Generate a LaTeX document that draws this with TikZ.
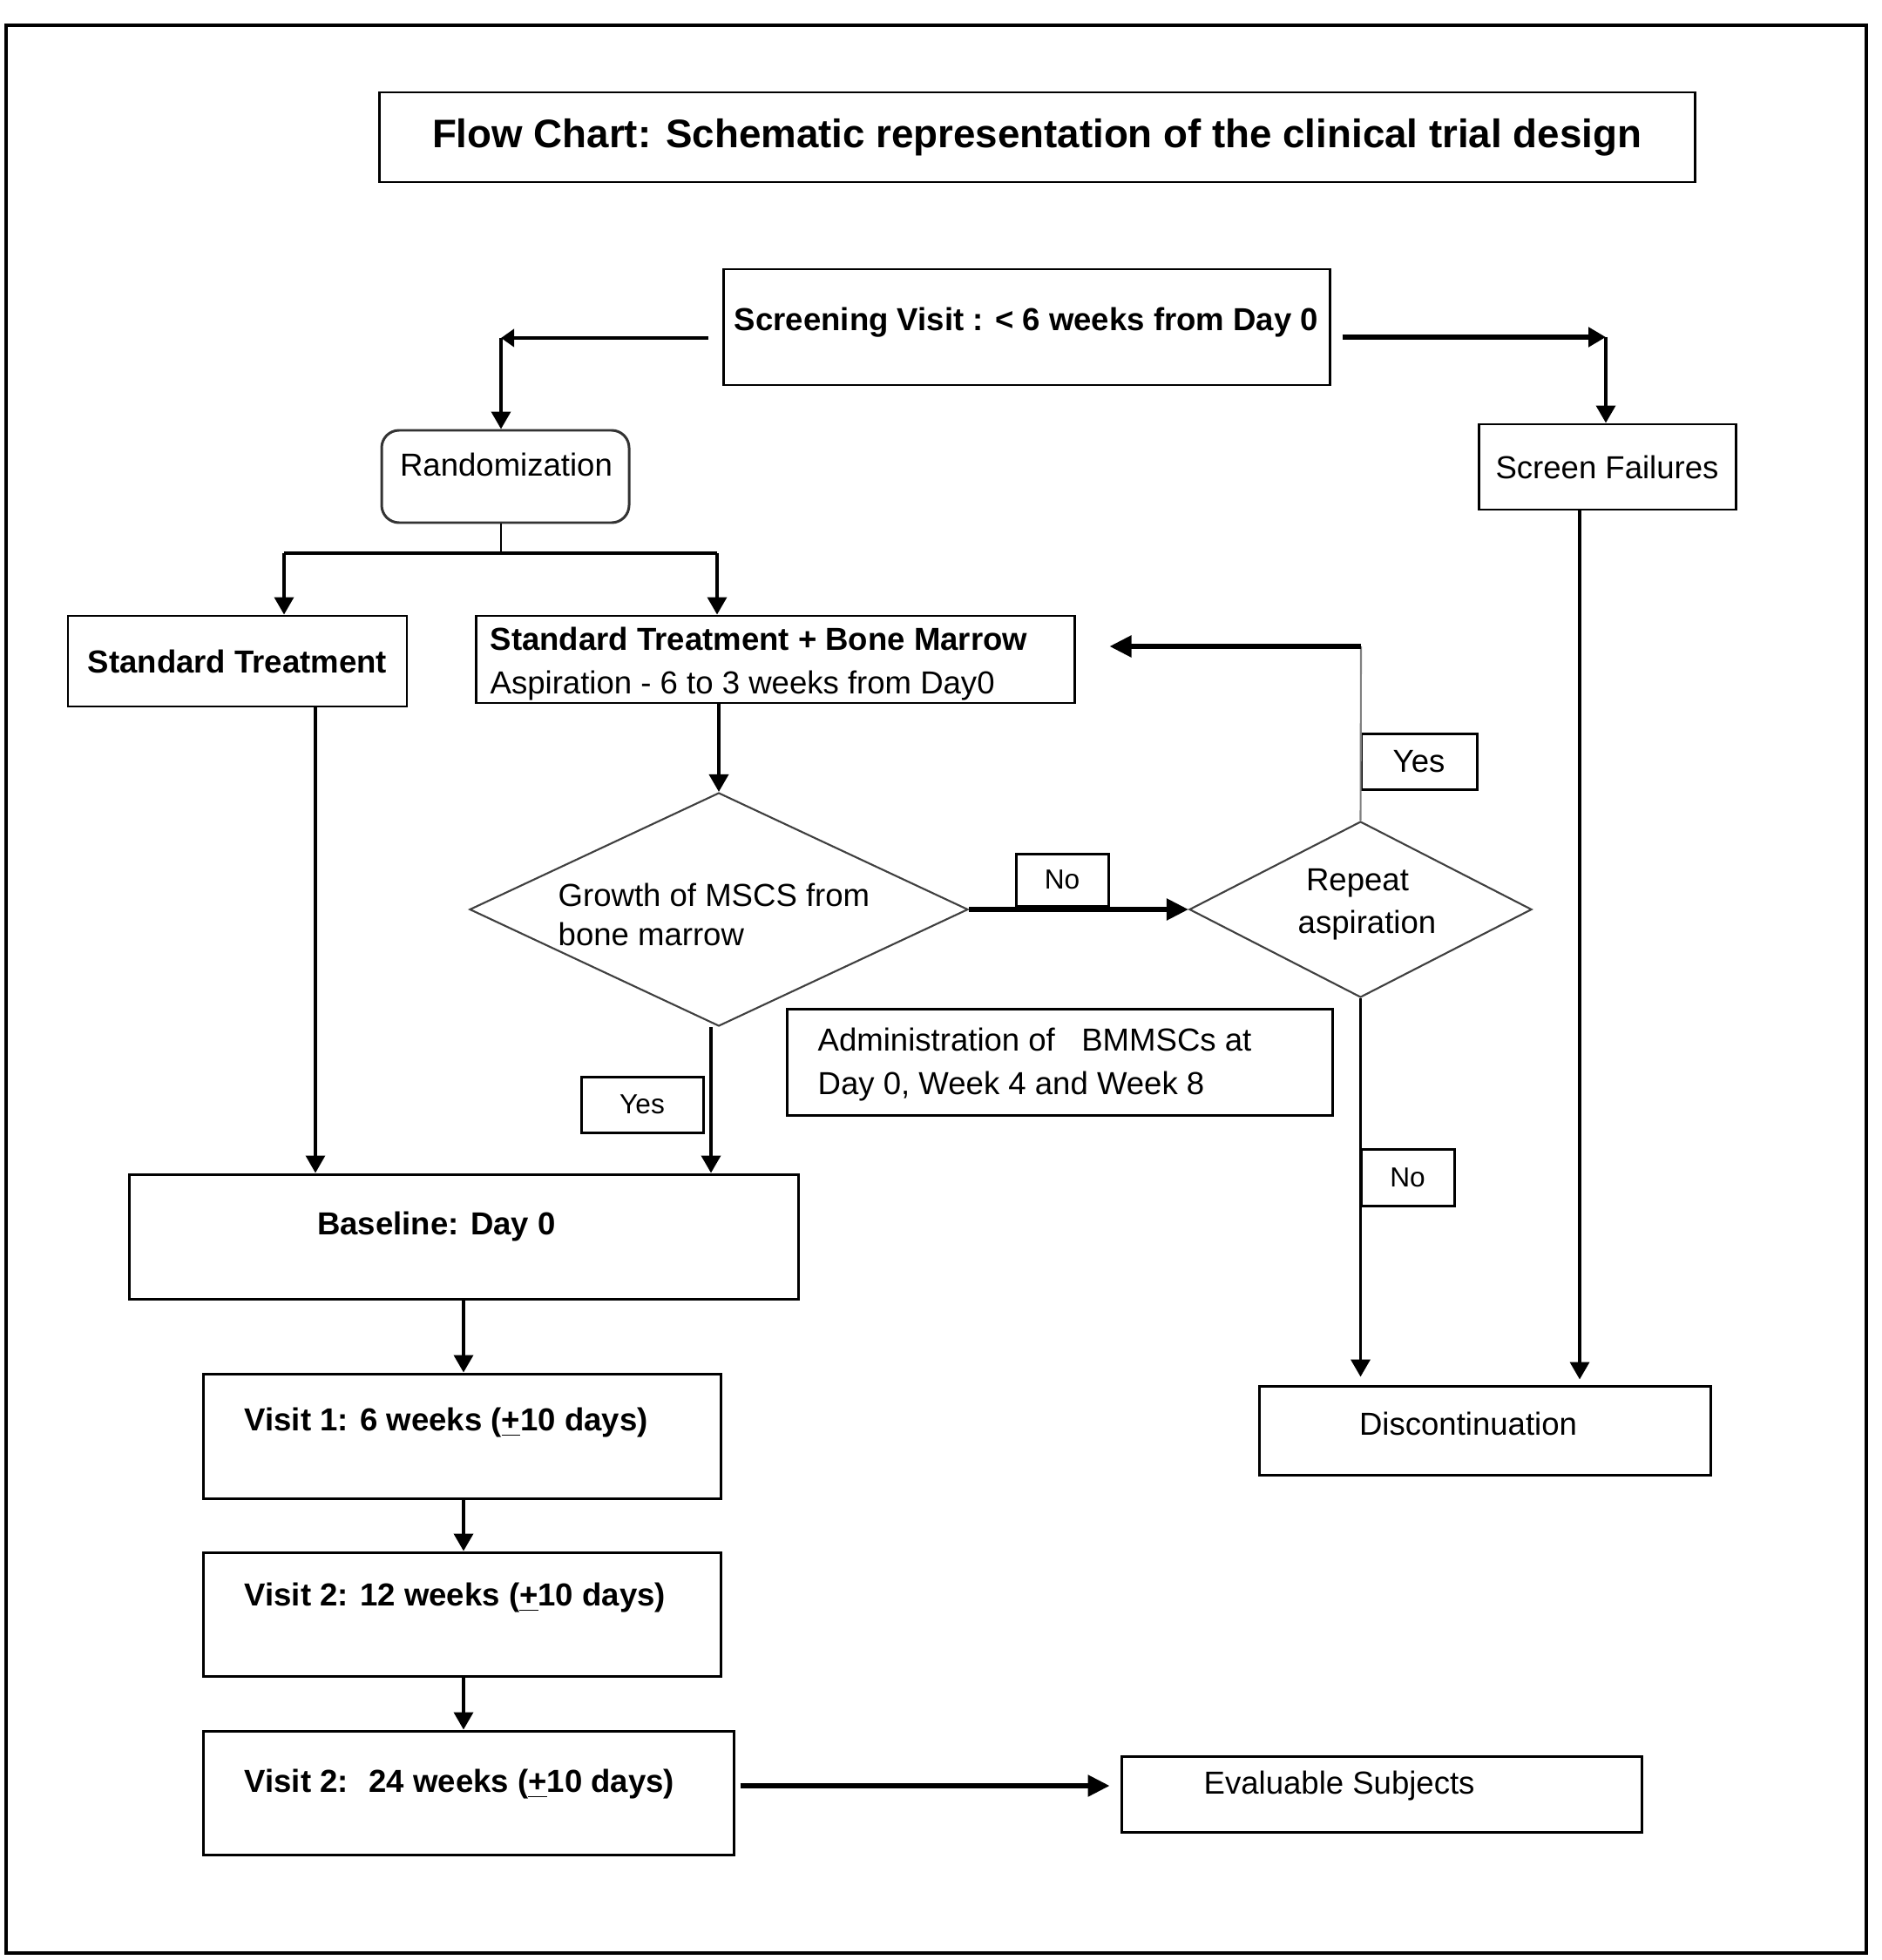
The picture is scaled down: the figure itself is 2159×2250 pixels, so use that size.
\documentclass[tikz,border=0pt]{standalone}
\usepackage{fontspec}
\setmainfont{Liberation Sans}
\usetikzlibrary{arrows.meta,shapes.geometric}
\begin{document}
\begin{tikzpicture}[x=0.1mm,y=-0.1mm,
  box/.style={draw=black, line width=0.85pt, rectangle, inner sep=0pt},
  dia/.style={draw=black!75, line width=0.6pt, diamond, inner sep=0pt},
  txt/.style={inner sep=0pt, font=\fontsize{10.4}{14}\selectfont},
  btxt/.style={inner sep=0pt, font=\fontsize{10.4}{14}\selectfont\bfseries},
  stxt/.style={inner sep=0pt, font=\fontsize{9}{11}\selectfont},
  arr/.style={line width=1.05pt, -{Triangle[length=2mm,width=2.2mm]}},
  carr/.style={line width=1.2pt, -{Triangle[length=1.5mm,width=2mm]}},
  tarr/.style={line width=1.5pt, -{Triangle[length=2.5mm,width=2.4mm]}},
  ln/.style={line width=1.05pt}]
\useasboundingbox (0,0) rectangle (2159,2250);
\fill[white] (0,0) rectangle (2159,2250);
\draw[line width=0.9pt] (7,29) rectangle (2142,2242);

% nodes
\node[box, minimum width=151mm, minimum height=10.3mm,
      font=\fontsize{13}{15}\selectfont\bfseries] (title) at (1190,157.5)
  {Flow Chart: Schematic representation of the clinical trial design};
\node[box, minimum width=69.6mm, minimum height=13.3mm] (screen) at (1178,375.5) {};
\node[btxt] (screenT) at (1178,370) {Screening Visit : < 6 weeks from Day 0};
\node[box, rounded corners=2mm, draw=black!80, minimum width=28.4mm, minimum height=10.6mm] (rand) at (580,547) {};
\node[txt] (randT) at (581,533) {Randomization};
\node[box, minimum width=29.5mm, minimum height=9.8mm, txt] (sf) at (1844.5,536) {Screen Failures};
\node[box, minimum width=38.9mm, minimum height=10.4mm, btxt] (st) at (272.5,759) {Standard Treatment};
\node[box, minimum width=68.7mm, minimum height=10mm] (stbm) at (889.5,757) {};
\node[txt, anchor=west, align=left] (stbmT) at (562,762)
  {\textbf{Standard Treatment + Bone Marrow}\\Aspiration - 6 to 3 weeks from Day0};
\node[dia, minimum width=57.2mm, minimum height=26.8mm] (d1) at (825,1044) {};
\node[txt, anchor=west, align=left, font=\fontsize{10.4}{12.8}\selectfont] (d1T) at (640,1050)
  {Growth of MSCS from\\bone marrow};
\node[dia, minimum width=39.3mm, minimum height=20.2mm] (d2) at (1561.5,1044) {};
\node[txt, align=center] (d2T) at (1558,1038) {Repeat\\\hspace*{0.6em}aspiration};
\node[box, minimum width=10.6mm, minimum height=6mm, stxt] (no1) at (1219,1010) {No};
\node[box, minimum width=13.3mm, minimum height=6.4mm, txt] (yes1) at (1628.5,874) {Yes};
\node[box, minimum width=62.6mm, minimum height=12.2mm] (admin) at (1216,1219) {};
\node[txt, anchor=west, align=left] (adminT) at (938,1222)
  {Administration of \ \ BMMSCs at\\Day 0, Week 4 and Week 8};
\node[box, minimum width=14mm, minimum height=6.4mm, stxt] (yes2) at (737,1268) {Yes};
\node[box, minimum width=10.7mm, minimum height=6.5mm, stxt] (no2) at (1615.5,1351.5) {No};
\node[box, minimum width=76.8mm, minimum height=14.3mm] (base) at (532,1419.5) {};
\node[btxt] (baseT) at (501,1408) {Baseline: Day 0};
\node[box, minimum width=59.4mm, minimum height=14.3mm] (v1) at (530,1648.5) {};
\node[btxt, anchor=west] (v1T) at (280,1633) {Visit 1: 6 weeks (\underline{+}10 days)};
\node[box, minimum width=59.4mm, minimum height=14.2mm] (v2) at (530,1853) {};
\node[btxt, anchor=west] (v2T) at (280,1834) {Visit 2: 12 weeks (\underline{+}10 days)};
\node[box, minimum width=60.9mm, minimum height=14.2mm] (v3) at (537.5,2058) {};
\node[btxt, anchor=west] (v3T) at (280,2048) {Visit 2: \ 24 weeks (\underline{+}10 days)};
\node[box, minimum width=51.8mm, minimum height=10.2mm] (disc) at (1704,1642) {};
\node[txt] (discT) at (1685,1634) {Discontinuation};
\node[box, minimum width=59.7mm, minimum height=8.7mm] (eval) at (1585.5,2059.5) {};
\node[txt, anchor=west] (evalT) at (1381,2050) {Evaluable Subjects};

% coordinates
\coordinate (cL) at (575,388);
\coordinate (cR) at (1843,387);
\coordinate (sl) at (326,635);
\coordinate (sm) at (575,635);
\coordinate (sr) at (823,635);
\coordinate (xst) at (362,0);
\coordinate (xd1) at (816,0);
\coordinate (xsf) at (1813,0);
\coordinate (xv) at (532,0);
\coordinate (yc) at (1562,742);
\coordinate (ye) at (0,2050);

% connectors
\draw[carr, shorten <=1.6mm] (screen.west |- cL) -- (cL);
\draw[arr] (cL) -- (cL |- rand.north);
\draw[tarr, -{Triangle[length=2mm,width=2.2mm]}, shorten <=1.3mm] (screen.east |- cR) -- (cR);
\draw[arr] (cR) -- (cR |- sf.north);
\draw[ln, line width=0.7pt] (sm |- rand.south) -- (sm);
\draw[ln] (sl) -- (sr);
\draw[arr] (sl) -- (sl |- st.north);
\draw[arr] (sr) -- (sr |- stbm.north);
\draw[arr, line width=0.9pt] (st.south -| xst) -- (base.north -| xst);
\draw[arr] (d1.north |- stbm.south) -- (d1.north);
\draw[tarr] (d1.east) -- (d2.west);
\draw[line width=0.6pt, black!50] (d2.north) -- (yc);
\draw[tarr, shorten >=3.9mm] (yc) -- (stbm.east |- yc);
\draw[arr, shorten >=0.9mm] (d2.south) -- (d2.south |- disc.north);
\draw[arr, shorten >=0.6mm] (sf.south -| xsf) -- (disc.north -| xsf);
\draw[arr] (d1.south -| xd1) -- (base.north -| xd1);
\draw[arr] (base.south -| xv) -- (v1.north -| xv);
\draw[arr] (v1.south -| xv) -- (v2.north -| xv);
\draw[arr] (v2.south -| xv) -- (v3.north -| xv);
\draw[tarr, shorten <=0.6mm, shorten >=1.2mm] (v3.east |- ye) -- (eval.west |- ye);
\end{tikzpicture}
\end{document}
